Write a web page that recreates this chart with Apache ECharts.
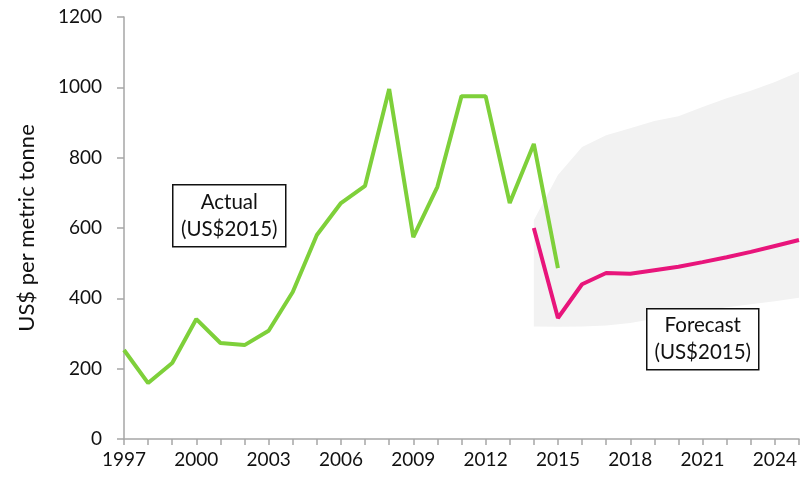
<!DOCTYPE html>
<html>
<head>
<meta charset="utf-8">
<script src="https://cdn.jsdelivr.net/npm/echarts@6/dist/echarts.min.js"></script>
<style>html,body{margin:0;padding:0;background:#fff;}#c{width:800px;height:482px;}</style>
</head>
<body>
<div id="c"></div>
<script>
var years = ['1997','1998','1999','2000','2001','2002','2003','2004','2005','2006','2007','2008','2009','2010','2011','2012','2013','2014','2015','2016','2017','2018','2019','2020','2021','2022','2023','2024','2025'];
var actual = [253,159,216,341,273,267,308,418,580,671,720,995,574,717,975,975,671,839,486,null,null,null,null,null,null,null,null,null,null];
var forecast = [null,null,null,null,null,null,null,null,null,null,null,null,null,null,null,null,null,600,344,440,472,470,480,490,503,517,532,549,566];
var bandLow = [null,null,null,null,null,null,null,null,null,null,null,null,null,null,null,null,null,320,319,320,323,330,342,355,365,375,383,392,402];
var bandHigh = [null,null,null,null,null,null,null,null,null,null,null,null,null,null,null,null,null,622,751,830,864,884,904,918,944,969,990,1015,1044];
var yTicks = [0,200,400,600,800,1000,1200];

var bandDiff = bandHigh.map(function(v,i){ return v==null ? null : v - bandLow[i]; });
var font = 'Lato';
function box(x, y, w, h, txt){
  return {type:'group', left:x, top:y, z:100, children:[
    {type:'rect', z:100, shape:{x:0, y:0, width:w, height:h}, style:{fill:'#fff', stroke:'#111', lineWidth:1.5}},
    {type:'text', z:101, x:w/2, y:h/2, style:{text:txt, font:'20.5px Lato', fill:'#111', align:'center', verticalAlign:'middle', lineHeight:27}}
  ]};
}
var chart = echarts.init(document.getElementById('c'));
chart.setOption({
  animation: false,
  grid: {left:124, right:1, top:17, bottom:43},
  xAxis: {
    type:'category', data: years, boundaryGap:false,
    axisLine:{lineStyle:{color:'#a6a6a6', width:1.5}},
    axisTick:{show:true, interval:0, length:6, lineStyle:{color:'#a6a6a6', width:1.5}},
    axisLabel:{interval:2, color:'#111', fontFamily:font, fontSize:19, margin:11},
    splitLine:{show:false}
  },
  yAxis: {
    type:'value', min:yTicks[0], max:yTicks[yTicks.length-1], interval:200,
    name:'US$ per metric tonne', nameLocation:'middle', nameGap:86,
    nameTextStyle:{color:'#111', fontFamily:font, fontSize:22},
    axisLine:{show:true, lineStyle:{color:'#a6a6a6', width:1.5}},
    axisTick:{show:true, length:7, lineStyle:{color:'#a6a6a6', width:1.5}},
    axisLabel:{color:'#111', fontFamily:font, fontSize:19, margin:22, formatter:function(v){return String(v);}},
    splitLine:{show:false}
  },
  series: [
    {type:'line', data: bandLow, stack:'band', symbol:'none', lineStyle:{opacity:0}, silent:true, z:1},
    {type:'line', data: bandDiff, stack:'band', symbol:'none', lineStyle:{opacity:0}, areaStyle:{color:'#f2f2f2', opacity:1}, silent:true, z:1},
    {type:'line', data: actual, symbol:'none', lineStyle:{color:'#7ed03a', width:4}, z:3},
    {type:'line', data: forecast, symbol:'none', lineStyle:{color:'#e8157b', width:4}, z:3}
  ],
  graphic: [
    box(172, 184, 113, 62, 'Actual\n(US$2015)'),
    box(646, 308, 112, 61, 'Forecast\n(US$2015)')
  ]
});
</script>
</body>
</html>
